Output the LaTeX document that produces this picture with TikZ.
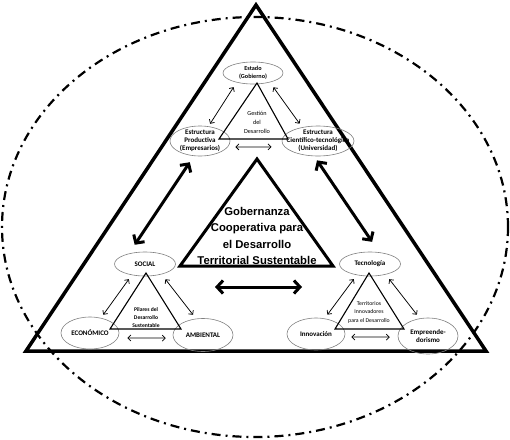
\documentclass[tikz,border=0pt]{standalone}
\usepackage{fontspec}
\setmainfont{Carlito}
\newfontfamily\gobfont{Liberation Sans}
\usetikzlibrary{arrows.meta,shapes.geometric}

\begin{document}
\begin{tikzpicture}[x=1pt,y=-1pt,
    elip/.style={ellipse,draw=gray,line width=0.6pt,inner xsep=-2pt,inner ysep=-1.5pt,align=center,
      font=\fontsize{7}{8}\selectfont\bfseries},
    tri/.style={line width=1.1pt,line join=miter},
    rotulo/.style={align=center,inner sep=0pt},
    flecha/.style={{Straight Barb[length=3pt,width=6pt]}-{Straight Barb[length=3pt,width=6pt]},line width=0.75pt},
    flechota/.style={{Straight Barb[length=6pt,width=13pt]}-{Straight Barb[length=6pt,width=13pt]},line width=3pt}]

    \useasboundingbox (0,0) rectangle (510,439);
    \draw[line width=2.2pt,dash pattern=on 9pt off 5pt on 2pt off 5pt] (255,227) ellipse [x radius=253,y radius=210];
    \draw[line width=3.5pt,line join=miter] (256,5) -- (486,351) -- (26,351) -- cycle;

    \node[elip,minimum width=60pt,minimum height=22pt,font=\fontsize{6.2}{7.5}\selectfont\bfseries] (estado) at (253,73) {Estado\\(Gobierno)};
    \node[elip,minimum width=60pt,minimum height=30pt] (productiva) at (200,141) {Estructura\\Productiva\\(Empresarios)};
    \node[elip,minimum width=72pt,minimum height=30pt,inner xsep=-7pt] (cientifica) at (318,141) {Estructura\\Científico-tecnológica\\(Universidad)};
    \draw[tri] (257,83) -- (288,139) -- (219,139) -- cycle;
    \node[rotulo,font=\fontsize{6.2}{9}\selectfont] (gestion) at (257,122) {Gestión\\del\\Desarrollo};
    \draw[flecha,shorten <=5.5pt,shorten >=3pt] (estado.210) -- (productiva.60);
    \draw[flecha,shorten <=6pt,shorten >=4.4pt] (estado.331) -- (cientifica.139);
    \draw[flecha,shorten <=7.5pt,shorten >=13pt] (productiva.348) -- (cientifica.190);

    \node[elip,minimum width=61pt,minimum height=24pt] (social) at (145,264) {SOCIAL};
    \node[elip,minimum width=58pt,minimum height=32pt] (economico) at (90,333) {ECONÓMICO};
    \node[elip,minimum width=60pt,minimum height=33pt] (ambiental) at (203,335) {AMBIENTAL};
    \draw[tri] (146,273) -- (181,329) -- (110,329) -- cycle;
    \node[rotulo,font=\fontsize{5.6}{8}\selectfont\bfseries] (pilares) at (146,318) {Pilares del\\Desarrollo\\Sustentable};
    \draw[flecha,shorten <=5pt,shorten >=3.9pt] (social.220) -- (economico.54);
    \draw[flecha,shorten <=6.2pt,shorten >=4.9pt] (social.328) -- (ambiental.113);
    \draw[flecha,shorten <=9.4pt,shorten >=7.5pt] (economico.350) -- (ambiental.186);

    \node[elip,minimum width=61pt,minimum height=24pt] (tecnologia) at (370,264) {Tecnología};
    \node[elip,minimum width=58pt,minimum height=32pt] (innovacion) at (316,334) {Innovación};
    \node[elip,minimum width=60pt,minimum height=36pt] (emprende) at (428,336) {Empreende-\\dorismo};
    \draw[tri] (369,273) -- (404,329) -- (335,329) -- cycle;
    \node[rotulo,font=\fontsize{5.8}{8.5}\selectfont] (territorios) at (369,312) {Territorios\\Innovadores\\para el Desarrollo};
    \draw[flecha,shorten <=5pt,shorten >=4.7pt] (tecnologia.220) -- (innovacion.61);
    \draw[flecha,shorten <=5.8pt,shorten >=4.7pt] (tecnologia.326) -- (emprende.115);
    \draw[flecha,shorten <=6.5pt,shorten >=8pt] (innovacion.354) -- (emprende.182);

    \draw[line width=3pt,line join=miter] (257,159) -- (333,266) -- (180,266) -- cycle;
    \node[rotulo,font=\gobfont\bfseries\fontsize{11.3}{16.3}\selectfont] (gobernanza) at (257,236) {Gobernanza\\Cooperativa para\\el Desarrollo\\Territorial Sustentable};

    \draw[flechota,shorten <=7.5pt,shorten >=10.5pt] (productiva.248) -- (social.147);
    \draw[flechota,shorten <=5pt,shorten >=12.6pt] (cientifica.256) -- (tecnologia.52);
    \coordinate (izq) at (215,287);
    \coordinate (der) at (302,287);
    \draw[flechota] (izq) -- (der);

\end{tikzpicture}
\end{document}
